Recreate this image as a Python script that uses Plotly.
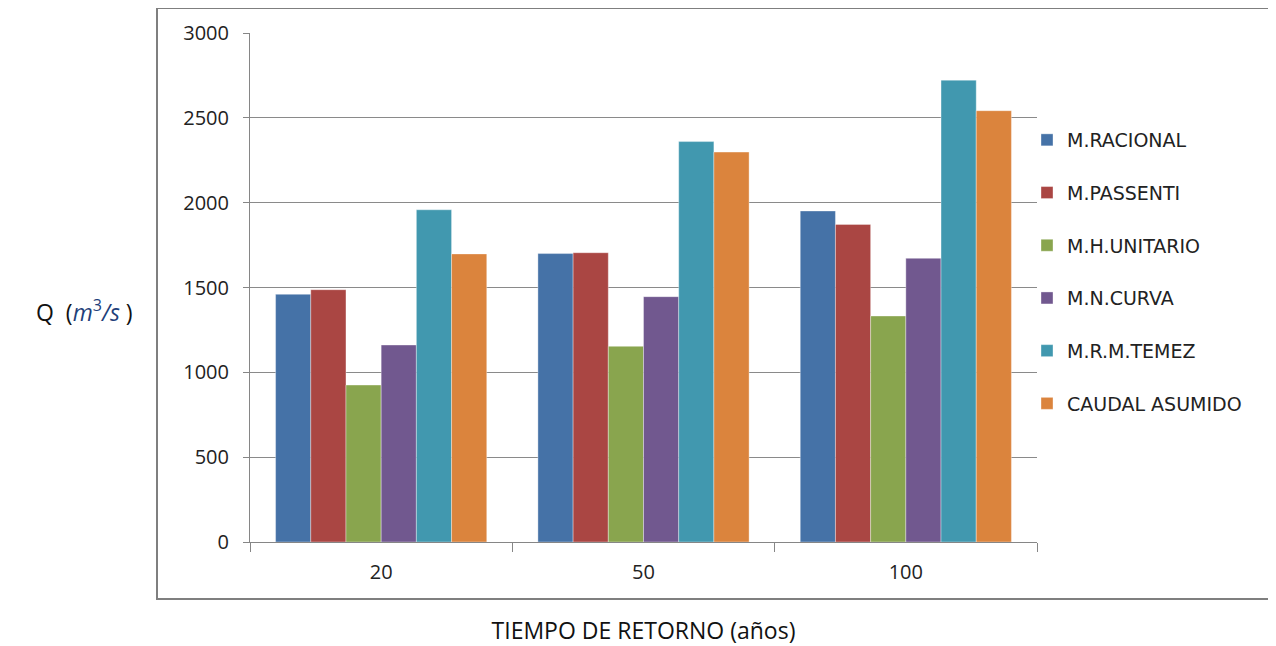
import plotly.graph_objects as go

categories = ["20", "50", "100"]
series_names = ["M.RACIONAL", "M.PASSENTI", "M.H.UNITARIO", "M.N.CURVA", "M.R.M.TEMEZ", "CAUDAL ASUMIDO"]
racional = [1460, 1700, 1951]
passenti = [1487, 1705, 1872]
h_unitario = [925, 1153, 1332]
n_curva = [1161, 1446, 1672]
temez = [1958, 2360, 2722]
caudal = [1698, 2298, 2542]
y_ticks = [0, 500, 1000, 1500, 2000, 2500, 3000]

colors = ["#4572A7", "#AA4643", "#89A54E", "#71588F", "#4198AF", "#DB843D"]
all_values = [racional, passenti, h_unitario, n_curva, temez, caudal]

fig = go.Figure()
for i, (name, vals) in enumerate(zip(series_names, all_values)):
    fig.add_trace(go.Bar(
        x=categories, y=vals, name=name, legendgroup=name,
        marker=dict(color=colors[i], line=dict(width=0.6, color="rgba(255,255,255,0.6)")),
    ))

OFF = 8  # page body margin
W, H = 1276 - OFF, 646 - OFF
L, R, T, B = 250 - OFF, 1037 - OFF, 33 - OFF, 542 - OFF

def px(x):
    return (x - OFF - L) / (R - L)

def py(y):
    return (B - (y - OFF)) / (B - T)

fig.update_layout(
    width=W, height=H,
    margin=dict(l=L, r=W - R, t=T, b=H - B, autoexpand=False),
    paper_bgcolor="white", plot_bgcolor="white",
    barmode="group", bargap=0.195, bargroupgap=0,
    font=dict(family="Open Sans, sans-serif", size=17, color="#222"),
    showlegend=True,
    legend=dict(
        x=px(1027), y=py(121), xanchor="left", yanchor="top",
        traceorder="grouped", tracegroupgap=25,
        font=dict(family="DejaVu Sans, sans-serif", size=19, color="#222"),
        itemwidth=30, bgcolor="rgba(0,0,0,0)",
    ),
    xaxis=dict(
        type="category", showgrid=False, showline=True, linecolor="#868686", linewidth=1,
        ticks="outside", tickson="boundaries", ticklen=9, tickcolor="#868686",
        ticklabelstandoff=12,
        tickfont=dict(size=20, family="Open Sans, sans-serif", color="#222"),
        title=dict(text="TIEMPO DE RETORNO (años)", font=dict(size=23, family="Open Sans, sans-serif", color="#111"), standoff=38),
        fixedrange=True,
    ),
    yaxis=dict(
        range=[0, 3000], tickvals=y_ticks, showgrid=True, gridcolor="#8a8a8a", gridwidth=1,
        showline=True, linecolor="#868686", linewidth=1,
        ticks="outside", ticklen=6, tickcolor="#868686",
        ticklabelstandoff=10,
        tickfont=dict(size=20, family="Open Sans, sans-serif", color="#222"),
        zeroline=False, fixedrange=True,
    ),
    shapes=[dict(
        type="rect", xref="paper", yref="paper",
        x0=px(157), x1=px(1272), y0=py(599), y1=py(8),
        line=dict(color="#7f7f7f", width=2), fillcolor="rgba(0,0,0,0)", layer="below",
    )],
    annotations=[dict(
        xref="paper", yref="paper", x=px(84), y=py(311), xanchor="center", yanchor="middle",
        showarrow=False,
        text="Q  (<i style='color:#1f3f7a'>m</i><sup style='color:#1f3f7a'>3</sup><i style='color:#1f3f7a'>/s</i> )",
        font=dict(size=23, family="Open Sans, sans-serif", color="#111"),
    )],
)

fig.write_html("out.html")
